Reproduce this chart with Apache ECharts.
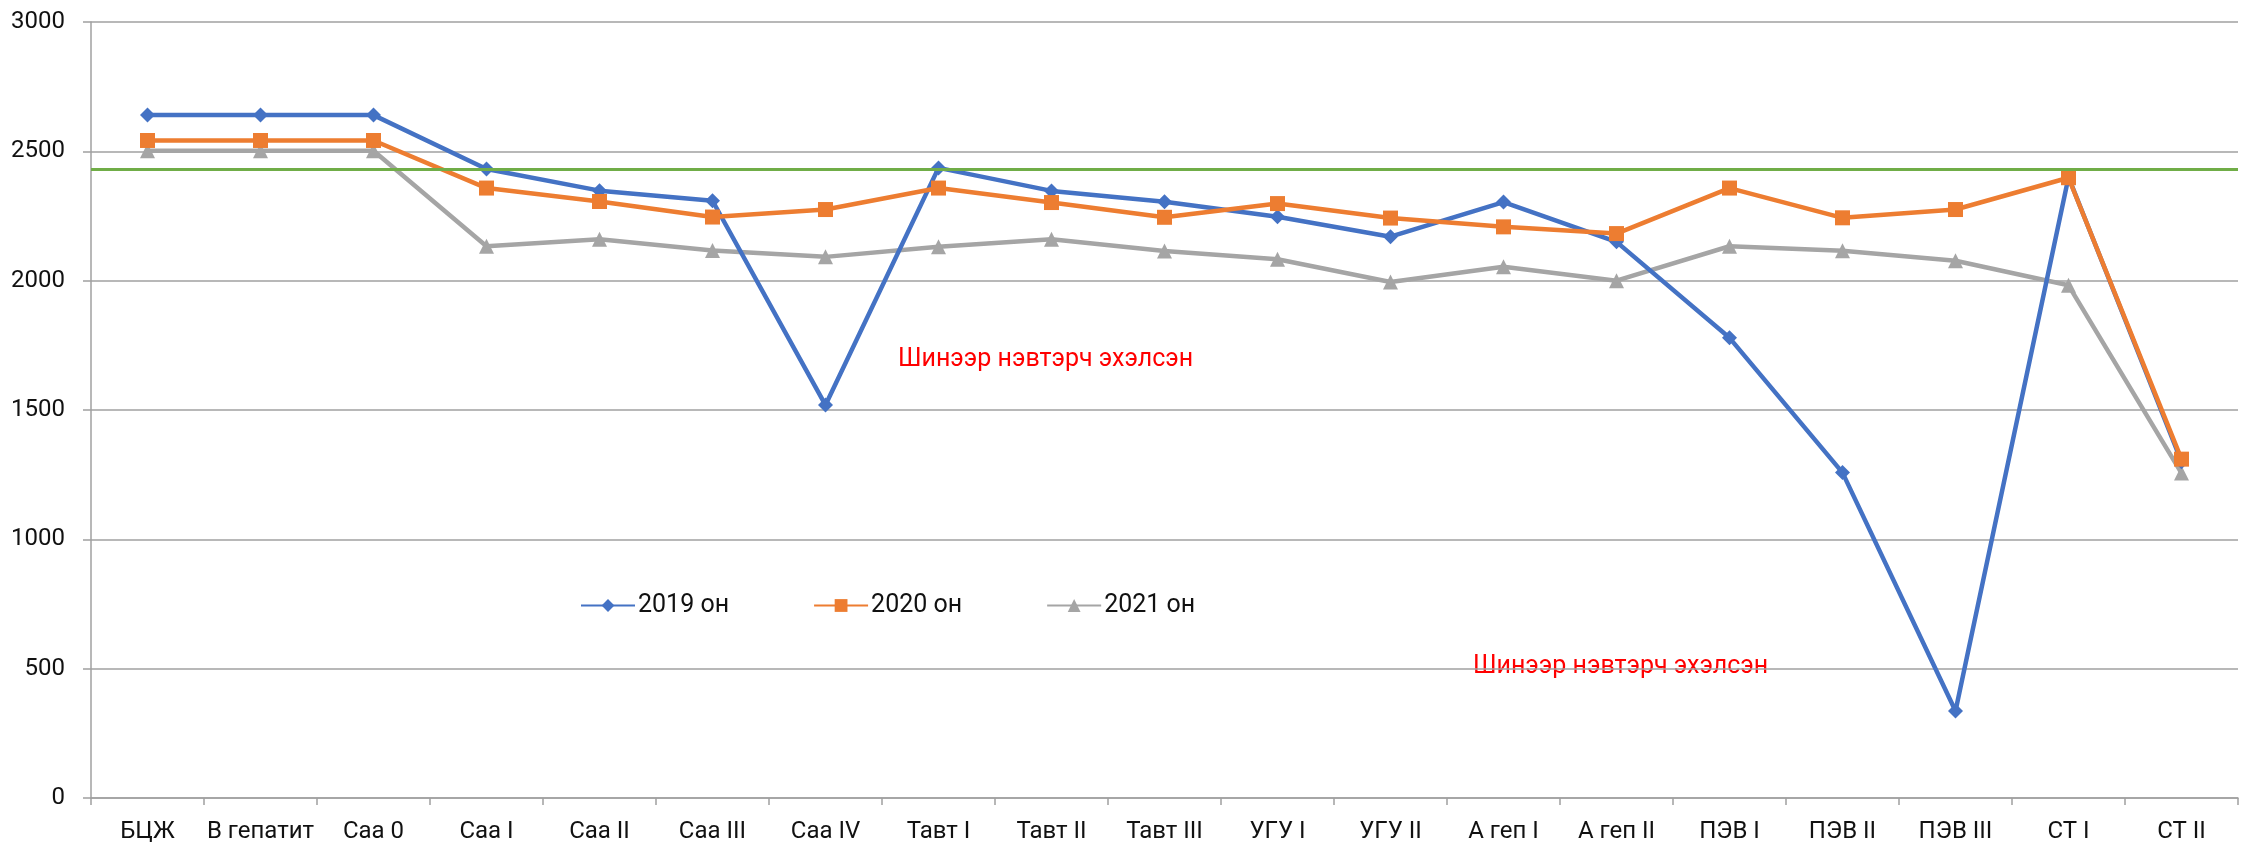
<!DOCTYPE html>
<html>
<head>
<meta charset="utf-8">
<script src="https://cdn.jsdelivr.net/npm/echarts@6/dist/echarts.min.js"></script>
<style>
  html, body { margin: 0; padding: 0; background: #fff; }
  #chart { width: 2252px; height: 846px; }
</style>
</head>
<body>
<div id="chart"></div>
<script>
// вакцины
const categories = ['БЦЖ', 'В гепатит', 'Саа 0', 'Саа I', 'Саа II', 'Саа III', 'Саа IV', 'Тавт I', 'Тавт II', 'Тавт III',
  'УГУ I', 'УГУ II', 'А геп I', 'А геп II', 'ПЭВ I', 'ПЭВ II', 'ПЭВ III', 'СТ I', 'СТ II']
const data2019 = [2640, 2640, 2640, 2432, 2348, 2309, 1519, 2436, 2347, 2305, 2247, 2170, 2304, 2150, 1779, 1258, 336, 2400, 1300]
const data2020 = [2542, 2542, 2542, 2358, 2306, 2246, 2275, 2358, 2302, 2245, 2298, 2242, 2208, 2182, 2358, 2243, 2275, 2398, 1310]
const data2021 = [2502, 2502, 2502, 2133, 2160, 2117, 2092, 2131, 2160, 2115, 2083, 1995, 2054, 2000, 2133, 2116, 2077, 1982, 1256]
const targetLine = 2432
const yTicks = { min: 0, max: 3000, interval: 500 }
const noteText = 'Шинээр нэвтэрч эхэлсэн'

const font = 'Roboto, "Noto Sans", sans-serif'
const lineWidth = 4.5

var myChart = echarts.init(document.getElementById('chart'))
myChart.setOption({
  animation: false,
  textStyle: { fontFamily: font },
  grid: { left: 91, right: 14, top: 22, bottom: 48, containLabel: false },
  legend: {
    left: 575,
    top: 588,
    itemWidth: 54,
    itemHeight: 16,
    itemGap: 84,
    textStyle: { fontSize: 25, color: '#111', fontFamily: font, padding: [0, 0, 0, -2] },
    data: ['2019 он', '2020 он', '2021 он']
  },
  xAxis: {
    type: 'category',
    data: categories,
    boundaryGap: true,
    axisLine: { lineStyle: { color: '#a0a0a0', width: 1.5 } },
    axisTick: { show: true, length: 7, lineStyle: { color: '#a0a0a0', width: 1.5 } },
    axisLabel: { fontSize: 24, color: '#111', margin: 22, interval: 0 },
    splitLine: { show: false }
  },
  yAxis: {
    type: 'value',
    min: yTicks.min,
    max: yTicks.max,
    interval: yTicks.interval,
    axisLine: { show: true, lineStyle: { color: '#a0a0a0', width: 1.5 } },
    axisTick: { show: true, length: 8, lineStyle: { color: '#a0a0a0', width: 1.5 } },
    axisLabel: { fontSize: 24, color: '#111', margin: 26, formatter: v => String(v) },
    splitLine: { lineStyle: { color: '#a0a0a0', width: 1.5 } }
  },
  series: [
    {
      name: '2019 он',
      type: 'line',
      data: data2019,
      symbol: 'diamond',
      symbolSize: 15,
      itemStyle: { color: '#4472C4' },
      lineStyle: { color: '#4472C4', width: lineWidth },
      z: 3,
      markLine: {
        silent: true,
        symbol: 'none',
        label: { show: false },
        lineStyle: { color: '#70AD47', width: 3, type: 'solid' },
        data: [{ yAxis: targetLine }]
      }
    },
    {
      name: '2020 он',
      type: 'line',
      data: data2020,
      symbol: 'rect',
      symbolSize: 15,
      itemStyle: { color: '#ED7D31' },
      lineStyle: { color: '#ED7D31', width: lineWidth },
      z: 4
    },
    {
      name: '2021 он',
      type: 'line',
      data: data2021,
      symbol: 'triangle',
      symbolSize: 15,
      itemStyle: { color: '#A5A5A5' },
      lineStyle: { color: '#A5A5A5', width: lineWidth },
      z: 2
    }
  ],
  graphic: [
    {
      type: 'text', left: 898, top: 347,
      style: { text: noteText, fill: '#ff0000', font: '25px ' + font }
    },
    {
      type: 'text', left: 1473, top: 654,
      style: { text: noteText, fill: '#ff0000', font: '25px ' + font }
    }
  ]
})
</script>
</body>
</html>
